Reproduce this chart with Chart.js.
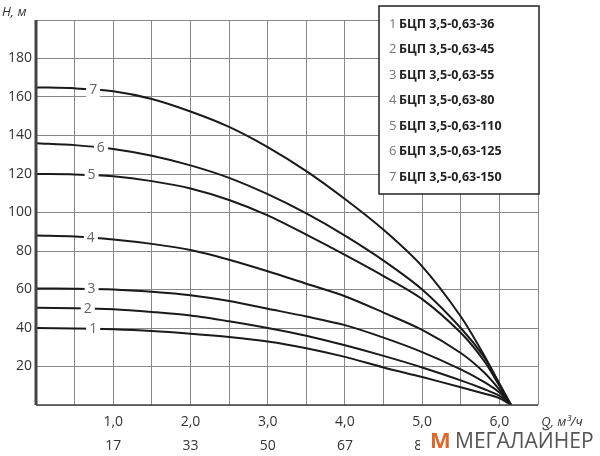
<!DOCTYPE html><html><head><meta charset="utf-8"><script src="https://cdn.jsdelivr.net/npm/chart.js@4"></script>
<style>body{margin:0;background:#fff}canvas{display:block}</style></head><body>
<div style="width:600px;height:456px"><canvas id="c"></canvas></div>
<script>
const Q=[0,0.5,1,1.5,2,2.5,3,3.5,4,4.5,5,5.5,5.8,6,6.15];
const H1=[40,39.8,39.3,38.4,37,35.3,33,29.5,25,19.5,14.5,9.2,6,3.6,0];
const H2=[50.5,50.3,49.7,48.3,46.5,43.5,40,36,31,25.5,19.5,12.8,8.3,4.8,0];
const H3=[60.5,60.4,60,58.8,57,54,50,46,41.5,35,27.5,18.5,12,6.5,0];
const H4=[88,87.5,86,83.7,80.5,75.5,69.5,63,56.5,48,39,27,17,8,0];
const H5=[120,119.8,118.8,116.3,112.5,106.5,98.5,88.5,78,67,55,37.5,23,10,0];
const H6=[136,135,133,129.5,124.5,118,109.5,99.5,88,75,60,40,25,11,0];
const H7=[165,164.5,163,159,152.5,144.5,134,121.5,107,91,72,46,26,11,0];
const series=[H1,H2,H3,H4,H5,H6,H7];
const labelQ=[0.74,0.67,0.72,0.71,0.72,0.84,0.74];
const legendNames=['БЦП 3,5-0,63-36','БЦП 3,5-0,63-45','БЦП 3,5-0,63-55','БЦП 3,5-0,63-80','БЦП 3,5-0,63-110','БЦП 3,5-0,63-125','БЦП 3,5-0,63-150'];
const qTicks=[1,2,3,4,5,6];
const lminTicks=['17','33','50','67','83','100'];
const F='"Open Sans", sans-serif';
function interp(arr,q){for(let i=0;i<Q.length-1;i++){if(q>=Q[i]&&q<=Q[i+1]){const t=(q-Q[i])/(Q[i+1]-Q[i]);return arr[i]+t*(arr[i+1]-arr[i]);}}return 0;}
const deco={id:'deco',afterDatasetsDraw(ch){const c=ch.ctx,x=ch.scales.x,y=ch.scales.y,a=ch.chartArea;c.save();
c.font='14px '+F;c.textAlign='center';c.textBaseline='middle';
series.forEach((s,i)=>{const px=x.getPixelForValue(labelQ[i]),py=y.getPixelForValue(interp(s,labelQ[i]));c.fillStyle='#fff';c.fillRect(px-7,py-8,14,16);c.fillStyle='#666';c.fillText(String(i+1),px,py);});
c.strokeStyle='#444';c.lineWidth=3;c.beginPath();c.moveTo(a.left,a.top);c.lineTo(a.left,a.bottom);c.stroke();
c.lineWidth=1.5;c.beginPath();c.moveTo(a.left,a.bottom);c.lineTo(a.right,a.bottom);c.stroke();
c.fillStyle='#fff';c.fillRect(379,6,160,188);c.strokeStyle='#222';c.lineWidth=1.5;c.strokeRect(379,6,160,188);
c.textAlign='left';
legendNames.forEach((n,i)=>{c.fillStyle='#777';c.font='13px '+F;c.fillText(String(i+1),389,24+i*25.5);c.fillStyle='#222';c.font='bold 12.5px '+F;c.fillText(n,399,24+i*25.5);});
c.fillStyle='#333';c.font='14px '+F;c.textAlign='center';
qTicks.forEach((q,i)=>{const px=x.getPixelForValue(q);c.fillText(q.toFixed(1).replace('.',','),px,422);c.fillText(lminTicks[i],px,446);});
c.font='italic 13px '+F;c.fillText('Q, м³/ч',562,422);c.fillText('л/мин',568,446);
c.textAlign='left';c.fillText('Н, м',2,12);
c.fillStyle='#fff';c.fillRect(420,428,180,28);
c.fillStyle='#e0662a';c.font='bold 22px '+F;c.fillText('M',430,442);
c.fillStyle='#555';c.font='21px '+F;c.fillText('МЕГАЛАЙНЕР',455,442);
c.restore();}};
new Chart(document.getElementById('c'),{type:'line',
data:{datasets:series.map(s=>({data:Q.map((q,i)=>({x:q,y:s[i]})),borderColor:'#1a1a1a',borderWidth:2,pointRadius:0,tension:0.3}))},
options:{responsive:true,maintainAspectRatio:false,animation:false,layout:{padding:{top:20,right:62,left:0,bottom:0}},
plugins:{legend:{display:false},tooltip:{enabled:false}},
scales:{x:{type:'linear',min:0,max:6.5,afterFit(s){s.height=51},ticks:{stepSize:0.5,display:false},grid:{color:'#888',lineWidth:1,drawTicks:false},border:{display:false}},
y:{min:0,max:200,afterFit(s){s.width=36},ticks:{stepSize:20,color:'#333',font:{size:14,family:F},padding:4,callback:v=>(v===0||v===200)?'':v},grid:{color:'#888',drawTicks:false},border:{display:false}}}},
plugins:[deco]});
</script></body></html>
